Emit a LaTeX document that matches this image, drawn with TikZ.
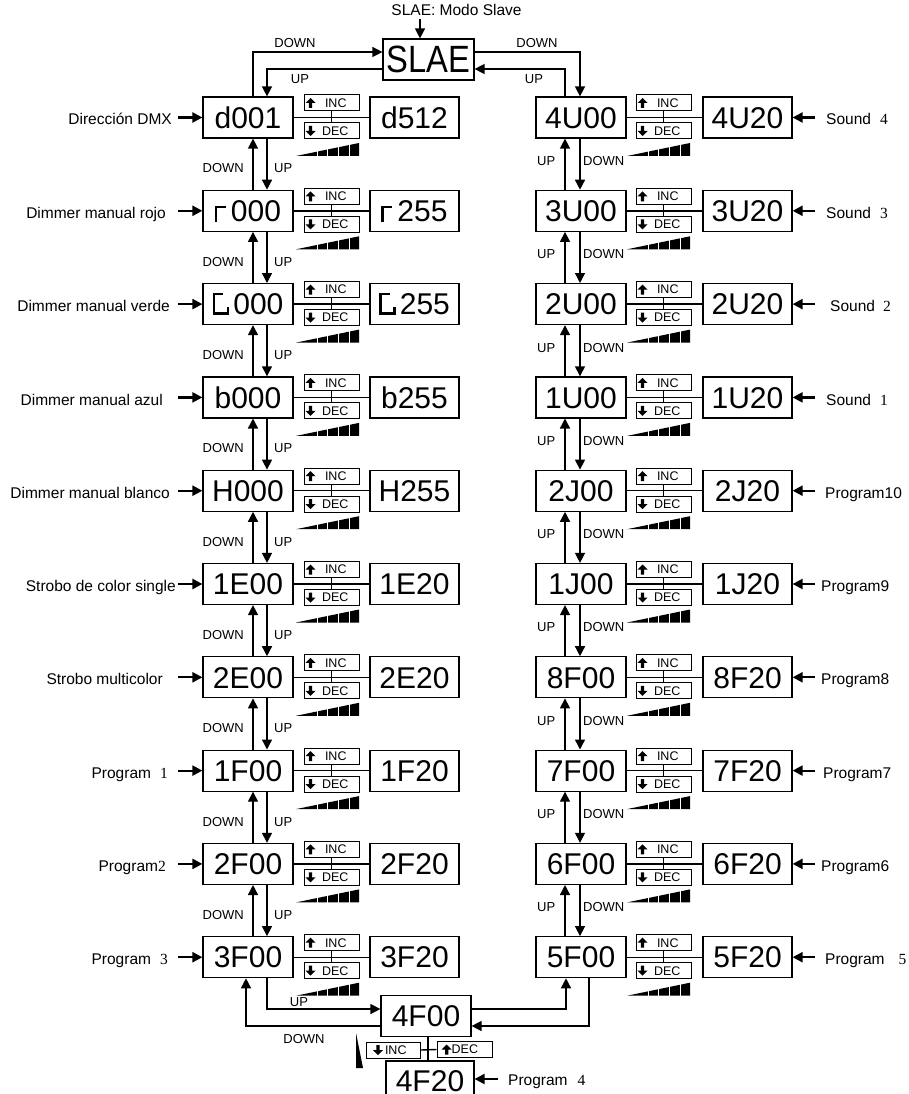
\documentclass[tikz,border=0pt]{standalone}
\usepackage{graphicx}
\usepackage{fontspec}
\setmainfont{Liberation Sans}
\newfontfamily\sd{Liberation Serif}
\usetikzlibrary{arrows.meta,calc}
\newcommand\segR{\rule{2.5pt}{16pt}\rule[13.5pt]{8.5pt}{2.5pt}\hspace{5pt}}
\newcommand\segG{\rlap{\rule{2.5pt}{22pt}}\rlap{\raisebox{19.5pt}{\rule{10.7pt}{2.5pt}}}\rlap{\rule{16.7pt}{2.5pt}}\hspace{14.2pt}\rule{2.5pt}{8.3pt}\hspace{4pt}}
\newcommand\uparr[2]{\fill ({#1},{#2-5}) -- ({#1+5},{#2}) -- ({#1+1.7},{#2}) -- ({#1+1.7},{#2+5}) -- ({#1-1.7},{#2+5}) -- ({#1-1.7},{#2}) -- ({#1-5},{#2}) -- cycle;}
\newcommand\dnarr[2]{\fill ({#1},{#2+5}) -- ({#1+5},{#2}) -- ({#1+1.7},{#2}) -- ({#1+1.7},{#2-5}) -- ({#1-1.7},{#2-5}) -- ({#1-1.7},{#2}) -- ({#1-5},{#2}) -- cycle;}
\newcommand\ramp[2]{\fill ({#1},{#2+38.5}) -- ({#1+63},{#2+25.5}) -- ({#1+63},{#2+38.5}) -- cycle;
  \foreach \dx in {21.2,31.8,42.5,53.5} \draw[white,line width=1.3pt] ({#1+\dx},{#2+23}) -- ({#1+\dx},{#2+40});}
\tikzset{
 mainbox/.style={draw, line width=1.2pt, minimum width=90pt, minimum height=41pt, inner sep=0pt,
   font=\fontsize{30}{30}\selectfont, text height=21.5pt, text depth=0pt},
 smallbox/.style={draw, line width=1pt, minimum width=55pt, minimum height=16pt, inner sep=0pt,
   font=\fontsize{12.5}{12.5}\selectfont},
 labL/.style={font=\fontsize{15.5}{15.5}\selectfont, inner sep=0pt, anchor=base east},
 labR/.style={font=\fontsize{15.5}{15.5}\selectfont, inner sep=0pt, anchor=base west},
 ud/.style={font=\fontsize{13}{13}\selectfont, inner sep=0pt},
 conn/.style={line width=1.4pt},
 arr/.style={conn, -{Triangle[length=10pt,width=10pt]}},
 inarr/.style={line width=2.2pt, -{Triangle[length=10pt,width=10pt]}},
}
\begin{document}
\begin{tikzpicture}[x=1pt,y=-1pt]
\useasboundingbox (0,0) rectangle (909,1094);
\fill[white] (0,0) rectangle (909,1094);
% reference coordinates
\coordinate (xLu) at (253,0);
\coordinate (xLd) at (267,0);
\coordinate (xRu) at (565,0);
\coordinate (xRd) at (580,0);
\coordinate (aL) at (178,0);
\coordinate (aR) at (815,0);
\coordinate (yA) at (0,52);
\coordinate (yB) at (0,69);
\coordinate (yC) at (0,1009);
\coordinate (yD) at (0,1026);
\coordinate (xBl) at (246,0);
\coordinate (xBr1) at (566,0);
\coordinate (xBr2) at (589,0);
\coordinate (xV) at (428,0);
\coordinate (tA) at (420,19);
\coordinate (pA) at (498,1079);

% top
\node[font=\fontsize{15.5}{15.5}\selectfont, inner sep=0pt] (top) at (456.5,10) {SLAE: Modo Slave};
\node[mainbox, minimum width=91pt, font=\fontsize{38}{38}\selectfont, text height=27pt] (S) at (428.5,59.5) {\scalebox{0.86}[1]{SLAE}};
\draw[arr] (tA) -- (tA |- S.north);

% left column
\foreach \i/\m/\s in {0/d001/d512, 1/\segR000/\segR255, 2/\segG000/\segG255, 3/b000/b255, 4/H000/H255,
  5/1E00/1E20, 6/2E00/2E20, 7/1F00/1F20, 8/2F00/2F20, 9/3F00/3F20}{
  \pgfmathsetmacro\cy{117.5+93.3*\i}
  \node[mainbox] (L\i) at (248,\cy) {\m};
  \node[mainbox, minimum width=89pt] (LS\i) at (414.5,\cy) {\s};
  \node[smallbox] (LI\i) at (331.5,\cy-14.5) {\makebox[55pt][l]{\hspace{21pt}INC}};
  \node[smallbox] (LD\i) at (331.5,\cy+13.5) {\makebox[55pt][l]{\hspace{18pt}DEC}};
  \uparr{310.5}{\cy-14.5}
  \dnarr{310.5}{\cy+13.5}
  \draw[conn] (L\i.east) -- (LS\i.west);
  \draw[conn] (LI\i.south) -- (LD\i.north);
  \ramp{296}{\cy}
  \draw[inarr] (aL |- L\i.west) -- (L\i.west);
}
% right column
\foreach \i/\m/\s in {0/4U00/4U20, 1/3U00/3U20, 2/2U00/2U20, 3/1U00/1U20, 4/2J00/2J20,
  5/1J00/1J20, 6/8F00/8F20, 7/7F00/7F20, 8/6F00/6F20, 9/5F00/5F20}{
  \pgfmathsetmacro\cy{117.5+93.3*\i}
  \node[mainbox] (R\i) at (581,\cy) {\m};
  \node[mainbox, minimum width=89pt] (RS\i) at (747.5,\cy) {\s};
  \node[smallbox] (RI\i) at (663.5,\cy-14.5) {\makebox[55pt][l]{\hspace{21pt}INC}};
  \node[smallbox] (RD\i) at (663.5,\cy+13.5) {\makebox[55pt][l]{\hspace{18pt}DEC}};
  \uparr{642.5}{\cy-14.5}
  \dnarr{642.5}{\cy+13.5}
  \draw[conn] (R\i.east) -- (RS\i.west);
  \draw[conn] (RI\i.south) -- (RD\i.north);
  \ramp{627}{\cy}
  \draw[inarr] (aR |- RS\i.east) -- (RS\i.east);
}
% vertical links
\foreach \i [evaluate=\i as \j using int(\i+1)] in {0,...,8}{
  \pgfmathsetmacro\cy{117.5+93.3*\i}
  \draw[arr] (L\j.north -| xLu) -- (L\i.south -| xLu);
  \draw[arr] (L\i.south -| xLd) -- (L\j.north -| xLd);
  \node[ud, anchor=east] (ldn\i) at (244,\cy+51) {DOWN};
  \node[ud, anchor=west] (lup\i) at (274,\cy+51) {UP};
  \draw[arr] (R\j.north -| xRu) -- (R\i.south -| xRu);
  \draw[arr] (R\i.south -| xRd) -- (R\j.north -| xRd);
  \node[ud, anchor=west] (rup\i) at (537,\cy+43.5) {UP};
  \node[ud, anchor=west] (rdn\i) at (583,\cy+43.5) {DOWN};
}
% left labels
\node[labL] (ll0) at (172,125) {Dirección DMX};
\node[labL] (ll1) at (166,218.5) {Dimmer manual rojo};
\node[labL] (ll2) at (170,311.5) {Dimmer manual verde};
\node[labL] (ll3) at (163,405) {Dimmer manual azul};
\node[labL] (ll4) at (170,498) {Dimmer manual blanco};
\node[labL] (ll5) at (176,591.5) {Strobo de color single};
\node[labL] (ll6) at (163,684.5) {Strobo multicolor};
\node[labL] (ll7) at (168,778.5) {Program\hspace{9pt}{\sd 1}};
\node[labL] (ll8) at (166,871.5) {Program{\sd 2}};
\node[labL] (ll9) at (168,964.5) {Program\hspace{9pt}{\sd 3}};
% right labels
\node[labR] (rl0) at (826,125) {Sound\hspace{9pt}{\sd 4}};
\node[labR] (rl1) at (826,218.5) {Sound\hspace{9pt}{\sd 3}};
\node[labR] (rl2) at (830,311.5) {Sound\hspace{8pt}{\sd 2}};
\node[labR] (rl3) at (826,405) {Sound\hspace{9pt}{\sd 1}};
\node[labR] (rl4) at (825,498) {Program10};
\node[labR] (rl5) at (821,591.5) {Program9};
\node[labR] (rl6) at (821,684.5) {Program8};
\node[labR] (rl7) at (823,778.5) {Program7};
\node[labR] (rl8) at (821,871.5) {Program6};
\node[labR] (rl9) at (825,964.5) {Program\hspace{14pt}{\sd 5}};

% top connections
\draw[arr] (L0.north -| xLu) |- (S.west |- yA);
\draw[arr] (S.west |- yB) -| (L0.north -| xLd);
\draw[arr] (S.east |- yA) -| (R0.north -| xRd);
\draw[arr] (R0.north -| xRu) |- (S.east |- yB);
\node[ud] (tdl) at (295,43) {DOWN};
\node[ud] (tul) at (300,79) {UP};
\node[ud] (tdr) at (537,43) {DOWN};
\node[ud] (tur) at (534,79) {UP};

% bottom
\node[mainbox] (F4) at (426,1016) {4F00};
\node[mainbox, minimum width=88pt, minimum height=40pt] (F20) at (430,1081) {4F20};
\node[smallbox, minimum width=54pt] (I4) at (393,1050) {\makebox[54pt][l]{\hspace{19pt}INC}};
\node[smallbox, minimum width=55pt] (D4) at (464.5,1049.5) {\makebox[55pt][l]{\hspace{14.7pt}DEC}};
\dnarr{378}{1050}
\uparr{446.7}{1049.5}
\draw[conn] (F4.south -| xV) -- (F20.north -| xV);
\draw[conn] (I4.east) -- (D4.west);
\fill (356,1033) -- (363,1068) -- (356,1068) -- cycle;
\draw[arr] (L9.south -| xLd) |- (F4.west |- yC);
\draw[arr] (F4.west |- yD) -| (L9.south -| xBl);
\draw[arr] (F4.east |- yC) -| (R9.south -| xBr1);
\draw[arr] (R9.south -| xBr2) |- (F4.east |- yD);
\node[ud] (bul) at (299,1002) {UP};
\node[ud] (bdl) at (304,1039) {DOWN};
\draw[inarr] (pA) -- (pA -| F20.east);
\node[labR] (p4) at (508,1085) {Program\hspace{10pt}{\sd 4}};
\end{tikzpicture}
\end{document}
